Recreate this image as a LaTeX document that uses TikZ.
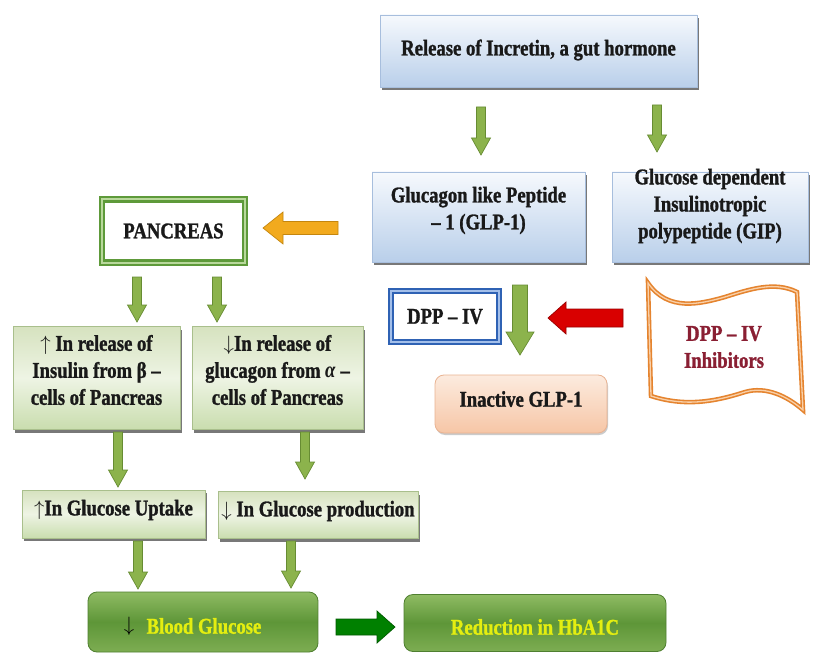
\documentclass[tikz,border=0pt]{standalone}
\usepackage{fontspec}
\setmainfont{Liberation Serif}[FakeStretch=0.83, BoldFeatures={FakeBold=1.2}]
\usetikzlibrary{shadows,calc}
\definecolor{bluetop}{HTML}{F6F9FD}
\definecolor{bluebot}{HTML}{B9CFEA}
\definecolor{blueedge}{HTML}{A7BEDD}
\definecolor{gtop}{HTML}{D6E2BF}
\definecolor{gmid}{HTML}{EEF4E4}
\definecolor{gbot}{HTML}{C9DDAE}
\definecolor{gedge}{HTML}{A9BF8C}
\definecolor{dgtop}{HTML}{8FBB63}
\definecolor{dgmid}{HTML}{5E9638}
\definecolor{dgbot}{HTML}{7DAD52}
\definecolor{dgedge}{HTML}{4F7F30}
\definecolor{arrfill}{HTML}{8CB34C}
\definecolor{arredge}{HTML}{678C33}
\definecolor{peachtop}{HTML}{FCEBDF}
\definecolor{peachbot}{HTML}{F6C6A6}
\definecolor{peachedge}{HTML}{E9B392}
\definecolor{yel}{HTML}{E4EE10}
\definecolor{inhred}{HTML}{8A1F33}
\definecolor{orng}{HTML}{E5842F}
\definecolor{orngl}{HTML}{F9D0A8}
\definecolor{goldf}{HTML}{F2AA1E}
\definecolor{goldd}{HTML}{C4860F}
\definecolor{panout}{HTML}{5E9A3A}
\definecolor{panin}{HTML}{B9D89C}
\definecolor{dppout}{HTML}{2F62B4}
\definecolor{dppin}{HTML}{A3BFEA}
\tikzset{
  txt/.style={font=\fontsize{22.5}{27}\selectfont\bfseries, align=center, inner sep=0pt, text=black!90},
  shad/.style={drop shadow={shadow xshift=1.5pt, shadow yshift=-3pt, fill=black!70, opacity=0.75}},
  bluebox/.style={shad, draw=blueedge, line width=0.6pt, top color=bluetop, bottom color=bluebot},
  lgbox/.style={shad, draw=gedge, line width=0.6pt, top color=gtop, bottom color=gbot, middle color=gmid},
  dgbox/.style={draw=dgedge, line width=0.8pt, rounded corners=9pt, top color=dgtop, bottom color=dgbot, middle color=dgmid},
  peachbox/.style={draw=peachedge, line width=0.8pt, rounded corners=9pt, top color=peachtop, bottom color=peachbot, drop shadow={shadow xshift=1pt, shadow yshift=-2pt, fill=black!40, opacity=0.5}},
  garr/.style={fill=arrfill, draw=arredge, line width=0.7pt},
  oarr/.style={fill=goldf, draw=goldd, line width=0.7pt},
  rarr/.style={fill=red!85!black, draw=red!60!black, line width=0.7pt},
  darr/.style={fill=green!50!black, draw=green!35!black, line width=0.7pt},
}
% vertical down block arrow: x, ytop, ybot, shaft half, head half, head length, style
\newcommand\vblock[7]{\draw[#7] (#1-#4,#2) -- (#1+#4,#2) -- (#1+#4,#3-#6) -- (#1+#5,#3-#6) -- (#1,#3) -- (#1-#5,#3-#6) -- (#1-#4,#3-#6) -- cycle;}
% left-pointing block arrow: xright, xtip, y, shaft half, head half, head length, style
\newcommand\lblock[7]{\draw[#7] (#1,#3-#4) -- (#2+#6,#3-#4) -- (#2+#6,#3-#5) -- (#2,#3) -- (#2+#6,#3+#5) -- (#2+#6,#3+#4) -- (#1,#3+#4) -- cycle;}
% right-pointing block arrow: xleft, xtip, y, shaft half, head half, head length, style
\newcommand\rblock[7]{\draw[#7] (#1,#3-#4) -- (#2-#6,#3-#4) -- (#2-#6,#3-#5) -- (#2,#3) -- (#2-#6,#3+#5) -- (#2-#6,#3+#4) -- (#1,#3+#4) -- cycle;}
\begin{document}
\begin{tikzpicture}[x=1pt,y=-1pt]
\useasboundingbox[fill=white] (0,0) rectangle (813,660);

% top boxes
\node[bluebox, minimum width=317pt, minimum height=72pt] (rel) at (538.5,51) {};
\node[txt] (relt) at ([yshift=1pt]rel.center) {Release of Incretin, a gut hormone};
\node[bluebox, minimum width=213pt, minimum height=90pt] (glp) at (478.5,217) {};
\node[txt] (glpt) at ([yshift=6.5pt]glp.center) {Glucagon like Peptide\\– 1 (GLP-1)};
\node[bluebox, minimum width=196pt, minimum height=90pt] (gip) at (710,217) {};
\node[txt] (gipt) at ([yshift=11pt]gip.center) {Glucose dependent\\Insulinotropic\\polypeptide (GIP)};

\vblock{481}{107}{155}{4.5}{9.5}{17}{garr}
\vblock{657}{105}{152}{4.5}{9.5}{17}{garr}

% pancreas
\node[txt, minimum width=143pt, minimum height=63pt, fill=white, draw=panout, double=panin, double distance=2pt, line width=2.2pt] (pan) at (173.5,231) {PANCREAS};
\lblock{338}{263}{228}{6.5}{16}{20}{oarr}

\vblock{137}{277}{322}{4.5}{9.5}{17}{garr}
\vblock{217}{277}{322}{4.5}{9.5}{17}{garr}

% left green boxes
\node[lgbox, minimum width=167pt, minimum height=103pt] (ins) at (96.5,378) {};
\node[txt] (inst) at ([yshift=8pt]ins.center) {$\uparrow$ In release of\\Insulin from β –\\cells of Pancreas};
\node[lgbox, minimum width=171pt, minimum height=103pt] (glc) at (277.5,378) {};
\node[txt] (glct) at ([yshift=8pt]glc.center) {$\downarrow$In release of\\glucagon from \textit{α} –\\cells of Pancreas};

\vblock{118}{432}{487}{4.5}{9.5}{17}{garr}
\vblock{305}{432}{479}{4.5}{9.5}{17}{garr}

\node[lgbox, minimum width=183pt, minimum height=48pt] (upt) at (113.5,514) {};
\node[txt] (uptt) at ([yshift=4pt]upt.center) {$\uparrow$In Glucose Uptake};
\node[lgbox, minimum width=200pt, minimum height=47pt] (prod) at (318,515) {};
\node[txt] (prodt) at ([yshift=4pt]prod.center) {$\downarrow$ In Glucose production};

\vblock{138}{541}{589}{4.5}{9.5}{17}{garr}
\vblock{291}{541}{588}{4.5}{9.5}{17}{garr}

% bottom boxes
\node[dgbox, minimum width=230pt, minimum height=60pt] (blood) at (203,622) {};
\node[txt, text=black] (bldarrow) at (129,626) {$\Big\downarrow$};
\node[txt, text=yel] (bldtxt) at (204,626) {Blood Glucose};
\rblock{336}{395}{627}{8}{16}{18}{darr}
\node[dgbox, minimum width=262pt, minimum height=57pt] (hba) at (535,623) {};
\node[txt, text=yel] (hbat) at (535,627) {Reduction in HbA1C};

% DPP-IV
\node[txt, minimum width=108pt, minimum height=51pt, fill=white, draw=dppout, double=dppin, double distance=2pt, line width=2.2pt] (dpp) at (445,316.5) {DPP – IV};
\vblock{520}{285}{355}{7.5}{14}{23}{garr}
\lblock{623}{548}{318}{9}{16}{18}{rarr}
\node[peachbox, minimum width=172pt, minimum height=58pt] (inact) at (521,404) {};
\node[txt] (inactt) at ([yshift=5pt]inact.center) {Inactive GLP-1};

% inhibitors wave
\draw[draw=orng, double=orngl, double distance=1.3pt, line width=1.6pt, fill=white]
  (648,283) .. controls (668,312) and (700,304) .. (725,297)
  .. controls (750,289) and (775,281) .. (797,292)
  -- (803,410)
  .. controls (787,396) and (766,386) .. (745,392)
  .. controls (720,400) and (688,408) .. (651,396) -- cycle;
\node[txt, text=inhred] (inh) at (724,347) {DPP – IV\\Inhibitors};
\end{tikzpicture}
\end{document}
